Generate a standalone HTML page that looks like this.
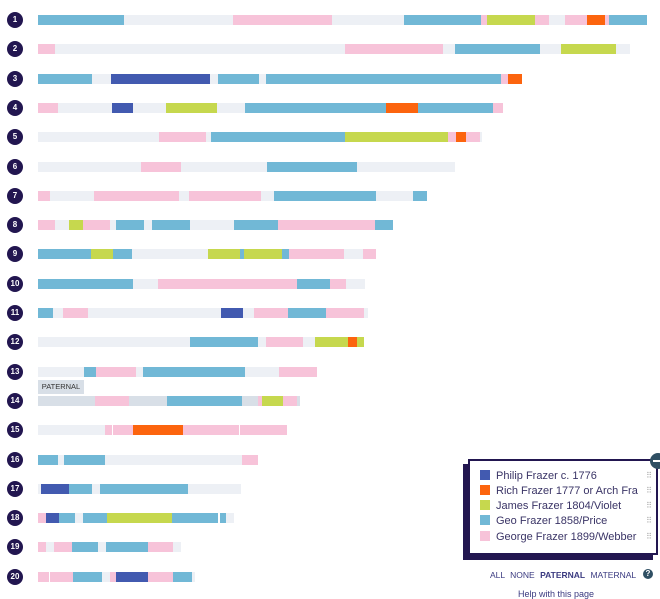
<!DOCTYPE html>
<html><head><meta charset="utf-8"><style>
body{margin:0;width:660px;height:594px;background:#fff;position:relative;overflow:hidden;font-family:"Liberation Sans",sans-serif}
.s{position:absolute;height:10px}
.c{position:absolute;left:7px;width:16px;height:16px;border-radius:50%;background:#221650;color:#fff;font-size:8px;font-weight:bold;text-align:center;line-height:16px}
.lg{position:absolute;left:468px;top:459px;width:186px;height:92px;background:#fff;border:2px solid #221650;box-shadow:-5px 5px 0 #221650}
.li{position:absolute;left:10px;font-size:11px;color:#3a3466;white-space:nowrap;width:158px;overflow:hidden}
.li i{display:inline-block;width:10px;height:10px;vertical-align:-1px;margin-right:6px}
.dots{position:absolute;right:4px;font-size:8px;color:#aaa}
</style></head><body>
<div id="r"></div>
<div style="position:absolute;left:38px;top:380px;width:46px;height:14px;background:#d8dfe7;font-size:7.5px;color:#333;line-height:14px;text-align:center">PATERNAL</div>
<div class="lg">
<div class="li" style="top:9px"><i style="background:#425ab0"></i>Philip Frazer c. 1776</div>
<div class="li" style="top:24px"><i style="background:#fc640e"></i>Rich Frazer 1777 or Arch Frazer 17</div>
<div class="li" style="top:39px"><i style="background:#c6d84e"></i>James Frazer 1804/Violet</div>
<div class="li" style="top:54px"><i style="background:#71b8d6"></i>Geo Frazer 1858/Price</div>
<div class="li" style="top:70px"><i style="background:#f7c3d9"></i>George Frazer 1899/Webber</div>
<div class="dots" style="top:10px">⠿</div><div class="dots" style="top:25px">⠿</div><div class="dots" style="top:40px">⠿</div><div class="dots" style="top:55px">⠿</div><div class="dots" style="top:71px">⠿</div>
</div>
<div style="position:absolute;left:650px;top:453px;width:16px;height:16px;border-radius:50%;background:#2f4f63;"><div style="position:absolute;left:3px;top:7px;width:7px;height:2px;background:#fff"></div></div>
<div style="position:absolute;top:570px;left:490px;font-size:8.5px;color:#3a3a80;word-spacing:3px;white-space:nowrap">ALL NONE <b>PATERNAL</b> MATERNAL</div>
<div style="position:absolute;left:643px;top:569px;width:10px;height:10px;border-radius:50%;background:#2f4f63;color:#fff;font-size:8px;font-weight:bold;text-align:center;line-height:10px">?</div>
<div style="position:absolute;top:589px;left:518px;font-size:9px;color:#3a3a80">Help with this page</div>
<script>
var C={b:'#425ab0',o:'#fc640e',g:'#c6d84e',l:'#71b8d6',p:'#f7c3d9',e:'#edf0f5',d:'#d8dfe7'};
var R=[
"l38-124 e124-233 p233-332 e332-404 l404-481 p481-487 g487-535 p535-549 e549-565 p565-587 o587-605 p605-609 l609-647",
"p38-55 e55-345 p345-443 e443-455 l455-540 e540-561 g561-616 e616-630",
"l38-92 e92-111 b111-210 e210-218 l218-259 e259-266 l266-501 p501-508 o508-522",
"p38-58 e58-112 b112-133 e133-166 g166-217 e217-245 l245-386 o386-418 l418-493 p493-503",
"e38-159 p159-206 e206-211 l211-345 g345-448 p448-456 o456-466 p466-480 e480-482",
"e38-141 p141-181 e181-267 l267-357 e357-455",
"p38-50 e50-94 p94-179 e179-189 p189-261 e261-274 l274-376 e376-413 l413-427",
"p38-55 e55-69 g69-83 p83-110 e110-116 l116-144 e144-152 l152-190 e190-234 l234-278 p278-375 l375-393",
"l38-91 g91-113 l113-132 e132-208 g208-240 l240-244 g244-282 l282-289 p289-344 e344-363 p363-376",
"l38-133 e133-158 p158-297 l297-330 p330-346 e346-365",
"l38-53 e53-63 p63-88 e88-221 b221-243 e243-254 p254-288 l288-326 p326-364 e364-368",
"e38-190 l190-258 e258-266 p266-303 e303-315 g315-348 o348-357 g357-364",
"e38-84 l84-96 p96-136 e136-143 l143-245 e245-279 p279-317",
"d38-95 p95-129 d129-167 l167-242 d242-258 p258-262 g262-283 p283-297 d297-300",
"e38-105 p105-112 p113-133 o133-183 p183-239 p240-287",
"l38-58 e58-64 l64-105 e105-242 p242-258",
"e38-41 b41-69 l69-92 e92-100 l100-188 e188-241",
"p38-46 b46-59 l59-75 e75-83 l83-107 g107-172 l172-218 l220-226 e226-234",
"p38-46 e46-54 p54-72 l72-98 e98-106 l106-148 p148-173 e173-181",
"p38-49 p50-73 l73-102 e102-110 p110-116 b116-148 p148-173 l173-192 e192-195"];
var h='';
R.forEach(function(r,i){var t=Math.round(15+i*29.3);
h+='<div class="c" style="top:'+(t-3)+'px">'+(i+1)+'</div>';
r.split(' ').forEach(function(s){var c=C[s[0]],a=s.slice(1).split('-');
h+='<div class="s" style="top:'+t+'px;left:'+a[0]+'px;width:'+(a[1]-a[0])+'px;background:'+c+'"></div>';});});
document.getElementById('r').innerHTML=h;
</script>
</body></html>
